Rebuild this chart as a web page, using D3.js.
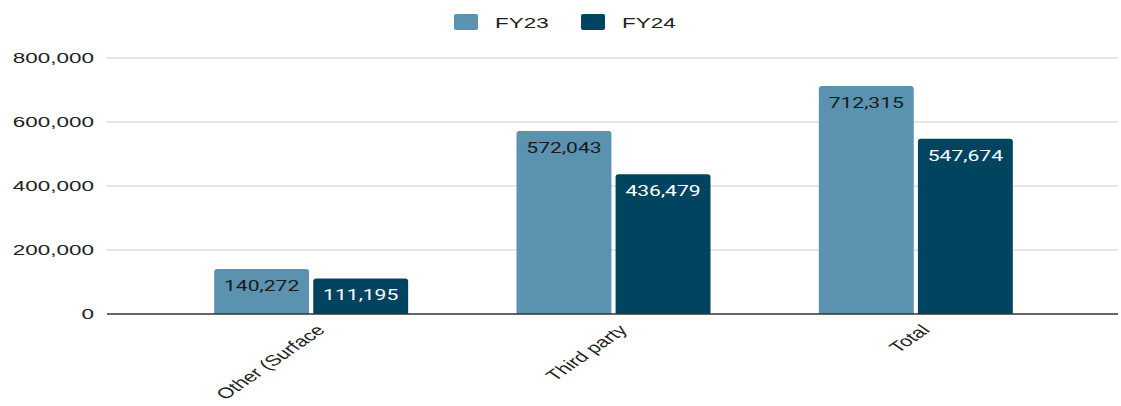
<!DOCTYPE html>
<html><head><meta charset="utf-8">
<script src="https://cdn.jsdelivr.net/npm/d3@7"></script>
<style>body{margin:0;background:#fff}svg{display:block}</style>
</head><body>
<script>
const categories = ["Other (Surface", "Third party", "Total"];
const seriesNames = ["FY23", "FY24"];
const fy23 = [140272, 572043, 712315];
const fy24 = [111195, 436479, 547674];
const yTicks = [0, 200000, 400000, 600000, 800000];
const colors = ["#5a92b0", "#00445f"];
const labelColors = ["#1a1a1a", "#ffffff"];

const W = 1121, H = 406;
const SX = 1.45; // horizontal stretch of the reference text
const svg = d3.select("body").append("svg").attr("width", W).attr("height", H);
const y = d3.scaleLinear().domain([0, 800000]).range([314, 58]);
const x0 = d3.scaleBand().domain(categories).range([160, 1067]).paddingInner(0).paddingOuter(0);
const x1 = d3.scaleBand().domain(seriesNames).range([0, 194]).paddingInner(0.042);
const gridL = 107, gridR = 1118;

// grid
svg.append("g").selectAll("line").data(yTicks.filter(d => d > 0)).join("line")
  .attr("x1", gridL).attr("x2", gridR).attr("y1", d => y(d)).attr("y2", d => y(d))
  .attr("stroke", "#cccccc").attr("stroke-width", 1);

// y axis labels
const yAxis = d3.axisLeft(y).tickValues(yTicks).tickFormat(d3.format(",")).tickSize(0).tickPadding(0);
const ya = svg.append("g").attr("transform", `translate(94,0)`).call(yAxis);
ya.select(".domain").remove();
ya.selectAll("text").attr("font-family", "Liberation Sans, Arial, sans-serif").attr("font-size", 15.5)
  .attr("fill", "#222").attr("x", 0).attr("transform", `scale(${SX},1)`);

const data = categories.map((c, i) => ({c, vals: [fy23[i], fy24[i]]}));
const groups = svg.append("g").selectAll("g").data(data).join("g")
  .attr("transform", d => `translate(${x0(d.c) + x0.bandwidth()/2 - 97},0)`);
const r = 3;
function barPath(x, w, yt, yb) {
  return `M${x},${yb}V${yt + r}Q${x},${yt} ${x + r},${yt}H${x + w - r}Q${x + w},${yt} ${x + w},${yt + r}V${yb}Z`;
}
groups.selectAll("path").data(d => d.vals.map((v, k) => ({v, k}))).join("path")
  .attr("d", d => barPath(x1(seriesNames[d.k]), x1.bandwidth(), y(d.v), y(0)))
  .attr("fill", d => colors[d.k]);
groups.selectAll("text").data(d => d.vals.map((v, k) => ({v, k}))).join("text")
  .attr("transform", d => `translate(${x1(seriesNames[d.k]) + x1.bandwidth()/2},${y(d.v) + 22}) scale(1.36,1)`)
  .attr("text-anchor", "middle")
  .attr("font-family", "Roboto, sans-serif").attr("font-size", 15.5)
  .attr("fill", d => labelColors[d.k])
  .text(d => d3.format(",")(d.v));

// baseline
svg.append("line").attr("x1", gridL).attr("x2", gridR).attr("y1", y(0)).attr("y2", y(0))
  .attr("stroke", "#333").attr("stroke-width", 1.3);

// x labels
const xAxis = d3.axisBottom(x0).tickSize(0).tickPadding(0);
const xa = svg.append("g").attr("transform", `translate(0,${y(0)})`).call(xAxis);
xa.select(".domain").remove();
xa.selectAll("text")
  .attr("font-family", "Liberation Sans, Arial, sans-serif").attr("font-size", 15).attr("fill", "#222")
  .attr("text-anchor", "end").attr("dy", null).attr("y", 0)
  .attr("transform", `translate(15,17) scale(${SX},1) rotate(-45)`);

// legend
const leg = svg.append("g");
const legX = [454, 581];
seriesNames.forEach((s, k) => {
  leg.append("rect").attr("x", legX[k]).attr("y", 14).attr("width", 24).attr("height", 16).attr("rx", 2).attr("fill", colors[k]);
  leg.append("text").attr("transform", `translate(${legX[k] + 41},28) scale(${SX},1)`).attr("font-family", "Liberation Sans, Arial, sans-serif")
    .attr("font-size", 15.5).attr("fill", "#222").text(s);
});
</script>
</body></html>
